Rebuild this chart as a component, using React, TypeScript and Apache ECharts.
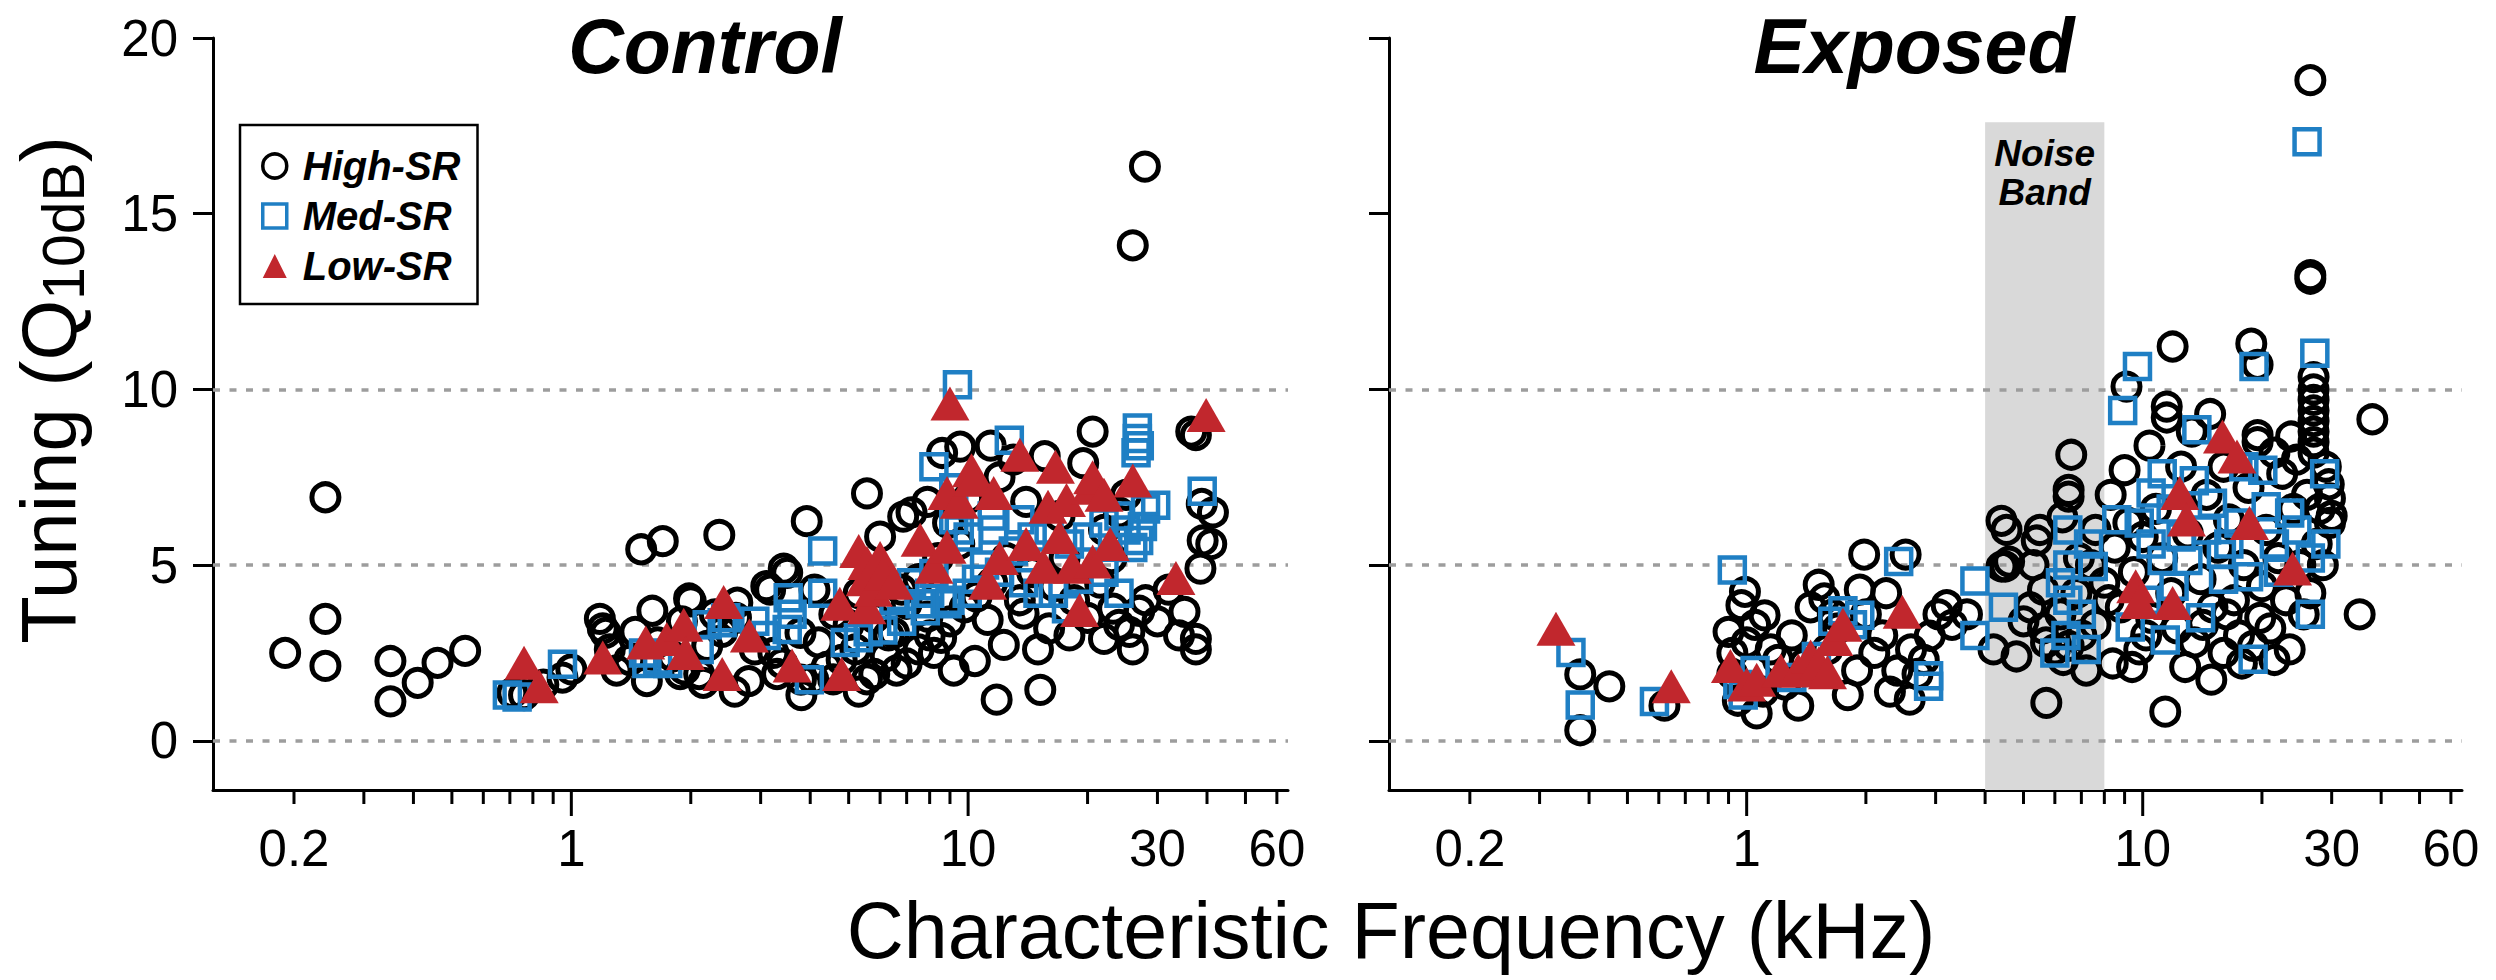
import React, { useEffect, useRef } from 'react';
import * as echarts from 'echarts';

const FONT = '"Liberation Sans", Arial, Helvetica, sans-serif';

// ---- axis definitions ----
const xMin = 0.125;
const xMax = 64;
const yMin = -1.4;
const yMax = 20;
const yTicks = [0, 5, 10, 15, 20];
const gridLineValues = [0, 5, 10];
const xMajorTicks = [1, 10];
const xMinorTicks = [0.2, 0.3, 0.4, 0.5, 0.6, 0.7, 0.8, 0.9, 2, 3, 4, 5, 6, 7, 8, 9, 20, 30, 40, 50, 60];
const xTickLabels = [0.2, 1, 10, 30, 60];
const panelTitles = ['Control', 'Exposed'];
const seriesNames = ['High-SR', 'Med-SR', 'Low-SR'];
const noiseBand = [4, 8];
const noiseBandTop = 17.6;

// ---- Control panel data: [CF kHz, Q10dB] ----
const controlHigh = [
  [0.19, 2.5], [0.24, 6.93], [0.24, 3.47], [0.24, 2.13], [0.35, 2.27], [0.35, 1.12], [0.41, 1.65], [0.46, 2.22],
  [0.54, 2.56], [0.71, 1.36], [0.76, 1.3], [0.85, 1.6], [1.0, 2.03], [0.95, 1.8],
  [1.18, 3.47], [1.2, 3.2], [1.22, 3.07], [1.25, 2.6], [1.3, 2.0], [1.4, 2.3], [1.45, 3.1], [1.5, 5.45], [1.7, 5.68],
  [1.6, 3.7], [1.65, 2.8], [1.55, 1.7], [1.8, 2.4], [1.88, 1.9], [1.9, 3.4], [1.93, 2.03], [1.98, 4.05], [2.0, 3.97],
  [2.1, 1.9], [2.15, 1.65], [2.2, 2.7], [2.3, 3.6], [2.36, 5.86], [2.4, 3.1], [2.58, 1.4], [2.6, 3.5], [2.62, 3.93],
  [2.8, 1.7], [2.9, 2.6], [3.1, 4.4], [3.17, 4.3], [3.23, 2.5], [3.3, 1.9], [3.4, 2.2], [3.43, 4.9], [3.5, 4.78],
  [3.78, 3.07], [3.8, 1.3], [3.79, 1.74], [3.92, 6.25], [4.07, 1.75], [4.1, 4.3], [4.2, 2.8], [4.4, 2.1], [4.57, 1.75],
  [4.6, 3.6], [4.8, 2.3], [5.0, 3.3], [5.2, 2.6], [5.3, 1.4], [5.3, 4.2], [5.56, 1.75], [5.56, 7.04], [5.8, 3.5],
  [5.8, 1.9], [6.0, 5.81], [6.2, 2.4], [6.3, 3.0], [6.5, 3.07], [6.6, 2.0], [6.8, 4.3], [6.86, 6.38], [7.0, 3.9],
  [7.0, 2.2], [7.2, 6.5], [7.5, 2.6], [7.5, 4.6], [7.9, 3.53], [7.9, 6.8], [8.0, 3.0], [8.2, 2.5], [8.4, 5.2],
  [8.55, 2.93], [8.6, 8.19], [8.9, 6.2], [9.0, 3.4], [9.2, 2.0], [9.5, 5.6], [9.55, 8.37], [9.8, 3.8], [10.0, 6.9],
  [10.4, 2.27], [10.5, 4.1], [11.2, 3.44], [11.4, 8.4], [11.5, 4.5], [11.8, 1.17], [12.0, 7.5], [12.3, 2.73],
  [12.5, 5.2], [13.0, 8.0], [13.5, 4.0], [13.8, 3.62], [14.0, 6.8], [14.5, 4.8], [15.0, 2.6], [15.2, 1.45], [15.6, 8.1],
  [16.0, 3.2], [16.5, 4.4], [17.0, 6.4], [17.5, 5.2], [18.0, 3.0], [18.5, 4.0], [19.5, 7.9], [20.0, 3.5], [20.6, 8.8],
  [21.5, 4.5], [22.0, 2.9], [22.0, 6.0], [23.0, 5.2], [23.2, 3.76], [24.0, 3.3], [24.0, 6.5], [25.0, 7.0], [25.5, 3.1],
  [26.0, 2.6], [26.0, 14.1], [27.0, 3.7], [27.9, 16.34], [28.0, 4.0], [30.0, 3.4], [32.0, 4.3], [34.0, 3.0],
  [35.1, 3.67], [36.5, 8.8], [37.5, 2.9], [37.5, 8.7], [37.5, 2.6], [38.5, 4.9], [38.8, 6.74], [39.0, 5.7],
  [41.0, 5.6], [41.4, 6.5],
];
const controlMed = [
  [0.69, 1.3], [0.73, 1.25], [0.95, 2.18], [1.52, 2.5], [1.55, 2.2], [1.65, 2.3], [1.75, 2.2], [2.1, 2.6], [2.2, 3.3],
  [2.4, 3.36], [2.45, 3.5], [2.9, 3.4], [3.1, 3.0], [3.5, 3.17], [3.52, 4.07], [3.6, 3.6], [3.98, 1.74], [4.3, 5.4],
  [4.3, 4.2], [4.9, 2.8], [5.29, 2.93], [5.6, 3.1], [6.1, 3.15], [6.5, 4.0], [6.8, 3.4], [7.2, 4.5], [7.57, 3.9],
  [7.8, 3.7], [8.0, 4.2], [8.2, 4.76], [8.2, 7.8], [8.85, 3.9], [9.0, 4.0], [9.2, 6.29], [9.2, 7.2], [9.4, 10.13],
  [9.5, 6.0], [9.95, 4.2], [10.0, 5.8], [10.5, 4.6], [11.0, 5.0], [11.5, 6.4], [11.6, 6.0], [12.0, 4.8], [12.7, 8.55],
  [13.0, 5.4], [13.5, 6.29], [13.8, 4.5], [14.5, 5.8], [15.0, 4.2], [16.0, 6.0], [16.4, 4.2], [17.7, 3.76], [18.0, 5.6],
  [19.0, 4.6], [20.0, 5.8], [22.0, 4.8], [22.0, 6.2], [24.0, 4.2], [24.0, 6.4], [25.0, 6.0], [26.0, 5.5], [26.5, 8.2],
  [26.7, 8.6], [26.7, 8.9], [27.0, 8.4], [26.9, 5.7], [27.5, 6.1], [28.0, 6.6], [29.7, 6.7], [38.9, 7.1],
];
const controlLow = [
  [0.76, 2.22], [0.83, 1.55], [1.2, 2.37], [1.54, 2.8], [1.74, 2.9], [1.92, 3.3], [1.94, 2.5], [2.4, 1.9], [2.42, 3.95],
  [2.81, 3.0], [3.6, 2.14], [4.75, 3.9], [4.8, 1.9], [5.3, 5.4], [5.5, 4.6], [5.56, 3.8], [5.56, 5.06], [5.77, 4.3],
  [6.0, 5.2], [6.1, 4.76], [6.5, 4.5], [7.57, 5.72], [8.2, 4.95], [8.85, 5.52], [8.85, 7.05], [9.0, 9.6], [9.5, 6.8],
  [10.2, 7.7], [10.3, 7.43], [11.2, 4.5], [11.6, 7.05], [12.0, 5.2], [13.5, 8.14], [14.0, 5.6], [15.5, 4.95],
  [15.9, 6.66], [16.6, 7.8], [17.0, 5.8], [17.7, 6.85], [18.3, 4.95], [19.1, 3.72], [20.3, 7.2], [20.6, 7.5],
  [20.6, 5.1], [22.0, 7.0], [22.8, 5.6], [26.0, 7.41], [33.4, 4.63], [39.8, 9.27],
];

// ---- Exposed panel data: [CF kHz, Q10dB] ----
const exposedHigh = [
  [0.38, 1.89], [0.45, 1.55], [0.38, 0.3], [0.62, 1.0],
  [0.9, 3.1], [0.92, 2.5], [0.92, 1.9], [0.95, 1.14], [0.97, 3.86], [0.99, 4.24], [1.0, 2.8], [1.05, 3.3], [1.06, 0.78],
  [1.1, 1.4], [1.11, 3.57], [1.15, 2.6], [1.2, 2.3], [1.25, 1.6], [1.3, 3.0], [1.35, 1.0], [1.4, 2.2], [1.45, 3.8],
  [1.52, 4.44], [1.57, 4.05], [1.6, 2.6], [1.65, 3.6], [1.7, 3.2], [1.8, 1.3], [1.9, 2.0], [1.93, 4.3], [1.98, 5.3],
  [2.0, 3.6], [2.1, 2.5], [2.2, 3.0], [2.25, 4.2], [2.3, 1.4], [2.4, 2.0], [2.52, 5.3], [2.58, 1.17], [2.6, 2.6],
  [2.7, 1.9], [2.8, 2.3], [2.9, 2.99], [3.05, 3.6], [3.2, 3.86], [3.3, 3.3], [3.6, 3.6],
  [4.2, 2.6], [4.4, 4.96], [4.4, 6.26], [4.5, 4.96], [4.53, 6.0], [4.6, 5.1], [4.8, 2.4], [5.0, 3.4], [5.2, 3.8],
  [5.3, 5.0], [5.4, 5.7], [5.5, 6.0], [5.6, 3.2], [5.6, 4.3], [5.7, 2.8], [5.71, 1.08], [6.0, 2.6], [6.2, 3.6],
  [6.27, 6.36], [6.3, 2.3], [6.5, 2.7], [6.5, 6.95], [6.5, 7.14], [6.6, 8.14], [6.8, 4.2], [6.9, 5.2], [7.0, 3.0],
  [7.2, 2.0], [7.4, 5.0], [7.6, 3.3], [7.6, 6.0], [8.0, 4.5], [8.2, 4.0], [8.3, 7.0], [8.4, 2.2], [8.5, 5.5],
  [8.8, 3.8], [9.0, 7.7], [9.1, 10.08], [9.2, 6.2], [9.4, 2.1], [9.5, 4.8], [9.8, 2.6], [10.0, 5.8], [10.2, 3.0],
  [10.4, 8.4], [10.5, 3.5], [10.8, 6.6], [11.2, 5.2], [11.4, 0.83], [11.5, 9.2], [11.5, 9.51], [11.8, 4.2],
  [11.9, 11.22], [12.2, 3.2], [12.5, 7.8], [12.8, 2.1], [13.0, 5.9], [13.3, 8.8], [13.5, 2.8], [14.0, 4.6], [14.2, 3.3],
  [14.5, 7.0], [14.8, 9.3], [14.9, 1.74], [15.0, 3.8], [15.5, 5.5], [16.0, 2.5], [16.0, 7.8], [16.3, 3.6], [16.5, 6.3],
  [17.0, 4.0], [17.5, 3.0], [17.8, 2.2], [18.0, 5.0], [18.5, 7.2], [18.8, 11.3], [19.5, 10.7], [19.0, 2.7],
  [19.5, 8.5], [19.5, 8.7], [19.8, 3.5], [20.0, 4.4], [20.5, 6.0], [21.0, 3.2], [21.5, 2.3], [21.5, 8.2], [22.0, 5.2],
  [22.5, 7.6], [23.0, 4.0], [23.5, 2.6], [23.7, 8.66], [24.0, 6.6], [24.5, 8.0], [25.0, 5.0], [25.5, 3.6], [26.0, 7.0],
  [26.5, 4.2], [26.5, 13.15], [26.5, 13.25], [26.5, 18.8], [27.0, 8.2], [27.0, 8.5], [27.0, 8.8], [27.0, 9.1],
  [27.0, 9.4], [27.0, 9.7], [27.0, 10.0], [27.0, 10.35], [27.5, 5.6], [28.0, 6.6], [28.5, 5.0], [29.0, 7.8],
  [29.5, 7.3], [29.7, 6.2], [29.7, 6.9], [30.0, 6.4], [35.3, 3.6], [38.0, 9.15],
];
const exposedMed = [
  [0.36, 2.51], [0.38, 1.02], [0.585, 1.12], [0.92, 4.86], [0.95, 1.6], [0.98, 1.3], [1.05, 2.0], [1.3, 1.8],
  [1.5, 2.4], [1.65, 3.4], [1.75, 3.7], [1.85, 3.3], [1.93, 3.57], [2.42, 5.1], [2.88, 1.55], [2.88, 1.85],
  [3.77, 3.0], [3.77, 4.55], [4.45, 3.8], [6.0, 2.5], [6.2, 4.5], [6.4, 3.0], [6.47, 4.0], [6.47, 5.0], [6.47, 6.0],
  [7.0, 3.6], [7.2, 2.6], [7.3, 5.6], [7.5, 4.96], [8.6, 6.29], [8.9, 9.4], [9.3, 3.24], [9.7, 10.65], [9.8, 6.2],
  [10.2, 4.0], [10.5, 5.6], [10.5, 7.05], [11.2, 5.13], [11.2, 7.6], [11.4, 2.87], [11.8, 6.6], [12.0, 4.4],
  [12.5, 5.8], [13.0, 5.13], [13.5, 7.4], [13.7, 8.85], [14.0, 3.5], [14.5, 6.0], [15.0, 6.76], [15.8, 5.3],
  [16.0, 4.6], [16.5, 5.6], [17.5, 6.2], [18.0, 7.8], [18.5, 4.67], [19.0, 2.32], [19.1, 10.65], [20.1, 7.7],
  [20.5, 6.66], [21.5, 5.6], [22.0, 4.8], [23.5, 6.48], [24.5, 6.0], [26.0, 17.05], [26.5, 3.6], [26.5, 5.2],
  [27.2, 11.03], [28.8, 7.6], [29.0, 5.6],
];
const exposedLow = [
  [0.33, 3.19], [0.645, 1.55], [0.91, 2.13], [1.0, 1.6], [1.06, 1.74], [1.22, 2.0], [1.35, 2.0], [1.45, 2.4],
  [1.52, 2.2], [1.6, 1.95], [1.66, 2.9], [1.75, 3.3], [2.47, 3.67], [9.6, 4.4], [9.8, 3.95], [11.9, 3.92],
  [12.4, 7.05], [12.9, 6.3], [15.9, 8.66], [17.3, 8.09], [18.6, 6.2], [23.9, 4.9],
];

const panelData = [
  [controlHigh, controlMed, controlLow],
  [exposedHigh, exposedMed, exposedLow],
];

const BLACK = '#000000';
const BLUE = '#1f7fc4';
const RED = '#c1272d';

const grids = [
  { left: 213, top: 38, width: 1075, height: 752 },
  { left: 1389, top: 38, width: 1073, height: 752 },
];

function buildOption() {
  const xAxis = grids.map((_, i) => ({
    type: 'log',
    logBase: 10,
    gridIndex: i,
    min: xMin,
    max: xMax,
    axisLine: { show: true, onZero: false, lineStyle: { color: BLACK, width: 3 } },
    axisTick: { show: false },
    axisLabel: { show: false },
    splitLine: { show: false },
    minorTick: { show: false },
  }));
  const yAxis = grids.map((_, i) => ({
    type: 'value',
    gridIndex: i,
    min: yMin,
    max: yMax,
    axisLine: { show: true, onZero: false, lineStyle: { color: BLACK, width: 3 } },
    axisTick: { show: true, customValues: yTicks, length: 20, lineStyle: { color: BLACK, width: 3 } },
    axisLabel: {
      show: i === 0,
      customValues: yTicks,
      fontSize: 51,
      fontFamily: FONT,
      color: BLACK,
      margin: 35,
    },
    splitLine: { show: false },
  }));

  const series: any[] = [];
  grids.forEach((_, g) => {
    const [high, med, low] = panelData[g];
    const highSeries: any = {
      type: 'scatter',
      name: seriesNames[0],
      xAxisIndex: g,
      yAxisIndex: g,
      data: high,
      symbol: 'circle',
      symbolSize: 27,
      itemStyle: { color: 'rgba(0,0,0,0)', borderColor: BLACK, borderWidth: 5, opacity: 1 },
      z: 3,
      silent: true,
      markLine: {
        silent: true,
        symbol: ['none', 'none'],
        label: { show: false },
        z: 2,
        lineStyle: { type: [7, 9.5], color: '#9d9d9d', width: 3.5, opacity: 1 },
        data: gridLineValues.map((v) => ({ yAxis: v })),
      },
    };
    if (g === 1) {
      highSeries.markArea = {
        silent: true,
        z: 1,
        itemStyle: { color: '#d9d9d9', opacity: 1 },
        label: {
          show: true,
          position: 'insideTop',
          distance: 12,
          formatter: 'Noise\nBand',
          fontSize: 37,
          lineHeight: 39,
          fontWeight: 'bold',
          fontStyle: 'italic',
          fontFamily: FONT,
          color: BLACK,
        },
        data: [[{ xAxis: noiseBand[0], yAxis: noiseBandTop }, { xAxis: noiseBand[1], yAxis: yMin }]],
      };
    }
    series.push(highSeries);
    series.push({
      type: 'scatter',
      name: seriesNames[1],
      xAxisIndex: g,
      yAxisIndex: g,
      data: med,
      symbol: 'rect',
      symbolSize: 25,
      itemStyle: { color: 'rgba(0,0,0,0)', borderColor: BLUE, borderWidth: 4.5, opacity: 1 },
      z: 4,
      silent: true,
    });
    series.push({
      type: 'scatter',
      name: seriesNames[2],
      xAxisIndex: g,
      yAxisIndex: g,
      data: low,
      symbol: 'triangle',
      symbolSize: [39, 34],
      itemStyle: { color: RED, opacity: 1 },
      z: 5,
      silent: true,
    });
    // x ticks (log-spaced, minor and major) drawn through the axis scale
    series.push({
      type: 'custom',
      xAxisIndex: g,
      yAxisIndex: g,
      silent: true,
      z: 6,
      data: [
        ...xMinorTicks.map((v) => [v, yMin, 0]),
        ...xMajorTicks.map((v) => [v, yMin, 1]),
      ],
      renderItem: (params: any, api: any) => {
        const p = api.coord([api.value(0), api.value(1)]);
        const len = api.value(2) ? 26 : 14;
        return {
          type: 'line',
          shape: { x1: p[0], y1: p[1], x2: p[0], y2: p[1] + len },
          style: { stroke: BLACK, lineWidth: 3 },
        };
      },
    });
    // x tick labels
    series.push({
      type: 'custom',
      xAxisIndex: g,
      yAxisIndex: g,
      silent: true,
      z: 6,
      data: xTickLabels.map((v) => [v, yMin]),
      renderItem: (params: any, api: any) => {
        const v = api.value(0);
        const p = api.coord([v, api.value(1)]);
        return {
          type: 'text',
          x: p[0],
          y: p[1] + 58,
          style: {
            text: String(v),
            font: '51px ' + FONT,
            fill: BLACK,
            align: 'center',
            verticalAlign: 'middle',
            textAlign: 'center',
            textVerticalAlign: 'middle',
          },
        };
      },
    });
  });

  const titleStyle = { fontSize: 77, lineHeight: 80, fontWeight: 'bold', fontStyle: 'italic', fontFamily: FONT, color: '#000' };

  return {
    animation: false,
    backgroundColor: '#ffffff',
    grid: grids.map((g) => ({ ...g, containLabel: false })),
    xAxis,
    yAxis,
    title: [
      { text: panelTitles[0], left: 705, top: 6, textAlign: 'center', padding: 0, textStyle: titleStyle },
      { text: panelTitles[1], left: 1914, top: 6, textAlign: 'center', padding: 0, textStyle: titleStyle },
      {
        text: 'Characteristic Frequency (kHz)',
        left: 1391,
        top: 889,
        textAlign: 'center',
        padding: 0,
        textStyle: { fontSize: 79, lineHeight: 82, fontWeight: 'normal', fontFamily: FONT, color: '#000' },
      },
    ],
    legend: {
      orient: 'vertical',
      left: 240,
      top: 125,
      padding: [21, 17, 18, 21],
      itemGap: 10,
      itemWidth: 24,
      itemHeight: 24,
      borderColor: BLACK,
      borderWidth: 2.5,
      backgroundColor: '#ffffff',
      selectedMode: false,
      textStyle: {
        fontSize: 40,
        fontWeight: 'bold',
        fontStyle: 'italic',
        color: BLACK,
        fontFamily: FONT,
        lineHeight: 40,
        padding: [0, 0, 0, 11],
      },
      data: [
        { name: seriesNames[0], icon: 'circle', itemStyle: { color: 'rgba(0,0,0,0)', borderColor: BLACK, borderWidth: 3.5, opacity: 1 } },
        { name: seriesNames[1], icon: 'rect', itemStyle: { color: 'rgba(0,0,0,0)', borderColor: BLUE, borderWidth: 3.5, opacity: 1 } },
        { name: seriesNames[2], icon: 'triangle', itemStyle: { color: RED, borderWidth: 0, opacity: 1 } },
      ],
    },
    graphic: [
      {
        type: 'text',
        x: 49,
        y: 390,
        rotation: Math.PI / 2,
        silent: true,
        style: {
          text: '{a|Tuning (Q}{b|10dB}{a|)}',
          fill: '#000',
          align: 'center',
          verticalAlign: 'middle',
          textAlign: 'center',
          textVerticalAlign: 'middle',
          rich: {
            a: { fontSize: 78, lineHeight: 78, fontFamily: FONT, fill: '#000', verticalAlign: 'middle' },
            b: { fontSize: 59, lineHeight: 59, fontFamily: FONT, fill: '#000', verticalAlign: 'middle', padding: [30, 0, 0, 0] },
          },
        },
      },
    ],
    series,
  };
}

export default function App() {
  const ref = useRef<HTMLDivElement>(null);
  useEffect(() => {
    if (!ref.current) return;
    const chart = echarts.init(ref.current, null, { renderer: 'svg' });
    chart.setOption(buildOption() as any);
    return () => {
      chart.dispose();
    };
  }, []);
  return (
    <div
      ref={ref}
      style={{ position: 'fixed', left: 0, top: 0, width: 2496, height: 980, background: '#ffffff' }}
    />
  );
}
